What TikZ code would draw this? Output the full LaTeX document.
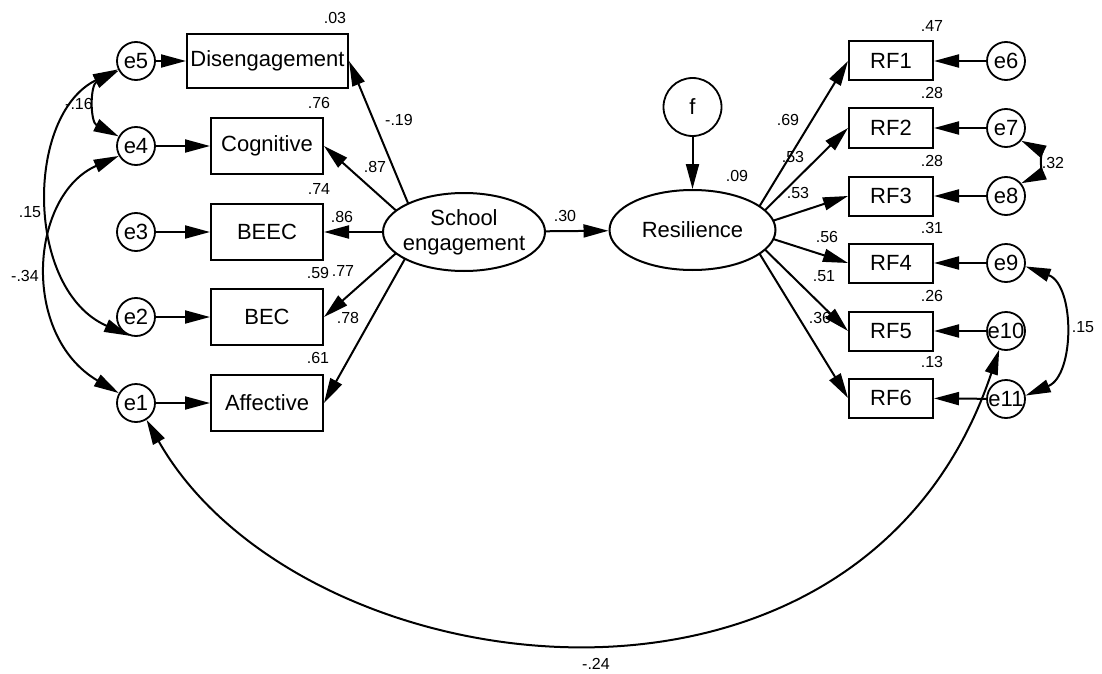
\documentclass[tikz,border=0pt]{standalone}
\usepackage{fontspec}
\setmainfont{Liberation Sans}
\usetikzlibrary{arrows.meta,shapes.geometric}
\begin{document}
\begin{tikzpicture}[x=1pt,y=-1pt,
  every node/.style={font=\fontsize{22}{25}\selectfont},
  obs/.style={draw, line width=2pt, rectangle, inner sep=0pt},
  lbox/.style={obs, minimum width=112pt, minimum height=56pt},
  rbox/.style={obs, minimum width=84pt, minimum height=39pt},
  errc/.style={draw, circle, line width=1.8pt, minimum size=38pt, inner sep=0pt, fill=white},
  lat/.style={draw, ellipse, line width=2pt, inner sep=0pt, fill=white},
  tip/.tip={Triangle[length=25pt,width=13pt]},
  path/.style={line width=2pt, -tip},
  cov/.style={line width=2pt, tip-tip},
  coef/.style={font=\fontsize{16}{18}\selectfont, inner sep=0pt}
]
\useasboundingbox (0,0) rectangle (1102,674);

% observed indicators of school engagement
\node[obs, minimum width=161pt, minimum height=54pt] (dis) at (267.5,61) {Disengagement};
\node[lbox] (cog)  at (267,146) {Cognitive};
\node[lbox] (beec) at (267,232) {BEEC};
\node[lbox] (bec)  at (267,317) {BEC};
\node[lbox] (aff)  at (267,403) {Affective};

% resilience indicators
\node[rbox] (rf1) at (891,61)  {RF1};
\node[rbox] (rf2) at (891,128) {RF2};
\node[rbox] (rf3) at (891,196) {RF3};
\node[rbox] (rf4) at (891,263) {RF4};
\node[rbox] (rf5) at (891,331) {RF5};
\node[rbox] (rf6) at (891,398) {RF6};

% loadings fan out from a point inside each latent ellipse
\coordinate (sehub)  at (420,232);
\coordinate (reshub) at (745,230);
\foreach \b in {dis, cog, beec, bec, aff}
  \draw[path] (sehub) -- (\b.east);
\foreach \b in {rf1, rf2, rf3, rf4, rf5, rf6}
  \draw[path] (reshub) -- (\b.west);

% latent variables (filled, so they cover the inner ends of the loadings)
\node[lat, minimum width=162pt, minimum height=78pt,
      label={[align=center]center:School\\engagement}] (se) at (464,232) {};
\node[lat, minimum width=166pt, minimum height=80pt,
      label=center:Resilience] (res) at (692.5,230) {};
\node[errc, minimum size=58pt, label=center:f] (f) at (692.5,107) {};

% error terms
\node[errc, label=center:e5] (e5) at (136,61) {};
\node[errc, label=center:e4] (e4) at (136,146) {};
\node[errc, label=center:e3] (e3) at (136,232) {};
\node[errc, label=center:e2] (e2) at (136,317) {};
\node[errc, label=center:e1] (e1) at (136,403) {};
\node[errc, label=center:e6]  (e6)  at (1006,61)  {};
\node[errc, label=center:e7]  (e7)  at (1006,128) {};
\node[errc, label=center:e8]  (e8)  at (1006,196) {};
\node[errc, label=center:e9]  (e9)  at (1006,263) {};
\node[errc, label=center:e10] (e10) at (1006,331) {};
\node[errc, label=center:e11] (e11) at (1006,399) {};

% error paths
\foreach \e/\b in {e5/dis, e4/cog, e3/beec, e2/bec, e1/aff}
  \draw[path] (\e) -- (\b);
\foreach \e/\b in {e6/rf1, e7/rf2, e8/rf3, e9/rf4, e10/rf5, e11/rf6}
  \draw[path] (\e) -- (\b);

% structural paths
\draw[path] (se) -- (res);
\draw[path] (f) -- (res);

% error covariances
\draw[cov] (e5.209) .. controls (90,85) and (90,122) .. (e4.151);
\draw[cov] (e5.205) .. controls (25,115) and (25,290) .. (e2.250);
\draw[cov] (e4.210) .. controls (30,195) and (20,335) .. (e1.150);
\draw[cov] (e1.-58) .. controls (300,690) and (860,765) .. (e10.250);
\draw[cov] (e7.-40) .. controls (1040,150) and (1040,175) .. (e8.40);
\draw[cov] (e9.-10) .. controls (1075,285) and (1075,375) .. (e11.10);

% estimates
\node[coef] (c1)  at (335,18)  {.03};
\node[coef] (c2)  at (319,103) {.76};
\node[coef] (c3)  at (399,120) {-.19};
\node[coef] (c4)  at (375,167) {.87};
\node[coef] (c5)  at (319,189) {.74};
\node[coef] (c6)  at (342,217) {.86};
\node[coef] (c7)  at (318,273) {.59};
\node[coef] (c8)  at (343,271) {.77};
\node[coef] (c9)  at (348,318) {.78};
\node[coef] (c10) at (318,358) {.61};
\node[coef] (c11) at (79,104)  {-.16};
\node[coef] (c12) at (30,212)  {.15};
\node[coef] (c13) at (25,276)  {-.34};
\node[coef] (c14) at (565,216) {.30};
\node[coef] (c15) at (737,176) {.09};
\node[coef] (c16) at (932,26)  {.47};
\node[coef] (c17) at (932,93)  {.28};
\node[coef] (c18) at (932,161) {.28};
\node[coef] (c19) at (788,120) {.69};
\node[coef] (c20) at (793,157) {.53};
\node[coef] (c21) at (798,193) {.53};
\node[coef] (c22) at (1053,163) {.32};
\node[coef] (c23) at (932,228) {.31};
\node[coef] (c24) at (827,237) {.56};
\node[coef] (c25) at (824,276) {.51};
\node[coef] (c26) at (932,296) {.26};
\node[coef] (c27) at (820,318) {.36};
\node[coef] (c28) at (932,362) {.13};
\node[coef] (c29) at (1083,327) {.15};
\node[coef] (c30) at (596,664) {-.24};
\end{tikzpicture}
\end{document}
